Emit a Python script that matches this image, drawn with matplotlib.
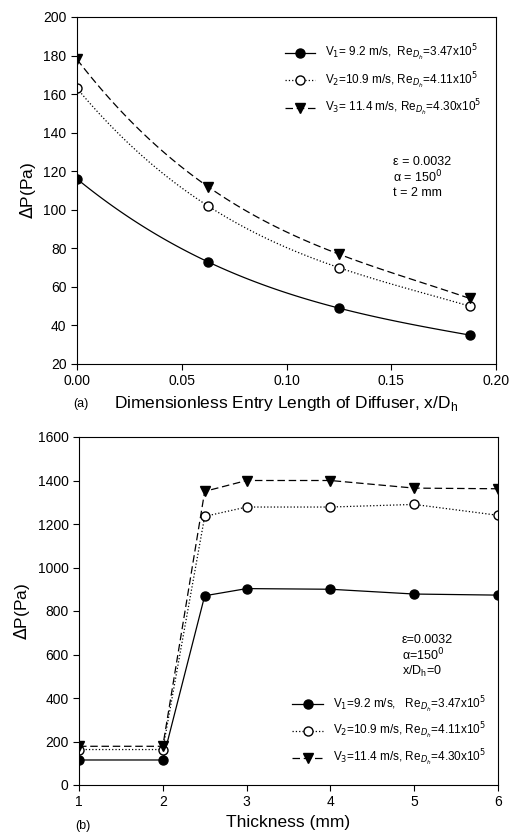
import matplotlib.pyplot as plt
import numpy as np

plt.rcParams["font.family"] = ["Liberation Sans", "DejaVu Sans"]

# panel (a): entry length
xd = [0.0, 0.0625, 0.125, 0.1875]
dp_a_v1 = [116, 73, 49, 35]
dp_a_v2 = [163, 102, 70, 50]
dp_a_v3 = [178, 112, 77, 54]

# panel (b): thickness
thick = [1, 2, 2.5, 3, 4, 5, 6]
dp_b_v1 = [115, 115, 870, 903, 900, 878, 873]
dp_b_v2 = [163, 163, 1235, 1278, 1278, 1290, 1240]
dp_b_v3 = [178, 178, 1350, 1400, 1400, 1365, 1362]

lab_a = [r"V$_1$= 9.2 m/s,  Re$_{D_h}$=3.47x10$^5$",
         r"V$_2$=10.9 m/s, Re$_{D_h}$=4.11x10$^5$",
         r"V$_3$= 11.4 m/s, Re$_{D_h}$=4.30x10$^5$"]
lab_b = [r"V$_1$=9.2 m/s,   Re$_{D_h}$=3.47x10$^5$",
         r"V$_2$=10.9 m/s, Re$_{D_h}$=4.11x10$^5$",
         r"V$_3$=11.4 m/s, Re$_{D_h}$=4.30x10$^5$"]

styles = [dict(ls="-", marker="o", mfc="black", mec="black"),
          dict(ls=":", marker="o", mfc="white", mec="black"),
          dict(ls=(0, (6, 3)), marker="v", mfc="black", mec="black")]

fig = plt.figure(figsize=(5.11, 8.34), dpi=100)
ax1 = fig.add_axes([77 / 511, 1 - 364 / 834, 419 / 511, 347 / 834])
ax2 = fig.add_axes([79 / 511, 1 - 785 / 834, 419 / 511, 348 / 834])

xs = np.linspace(xd[0], xd[-1], 100)
for ys, st, lb in zip([dp_a_v1, dp_a_v2, dp_a_v3], styles, lab_a):
    coef = np.polyfit(xd, ys, 3)
    ax1.plot(xs, np.polyval(coef, xs), color="black", ls=st["ls"], lw=0.9)
    ax1.plot(xd, ys, ls="none", marker=st["marker"], ms=6.5, mfc=st["mfc"], mec=st["mec"])
    ax1.plot([], [], color="black", ls=st["ls"], lw=0.9, marker=st["marker"], ms=6.5,
             mfc=st["mfc"], mec=st["mec"], label=lb)

ax1.set_xlim(0, 0.2)
ax1.set_ylim(20, 200)
ax1.set_xticks([0.0, 0.05, 0.10, 0.15, 0.20])
ax1.set_xticklabels(["0.00", "0.05", "0.10", "0.15", "0.20"])
ax1.set_yticks(range(20, 201, 20))
ax1.set_ylabel(r"$\Delta$P(Pa)", fontsize=12.5)
ax1.set_xlabel(r"Dimensionless Entry Length of Diffuser, x/D$_\mathregular{h}$", fontsize=12.5)
ax1.legend(loc="upper right", bbox_to_anchor=(0.99, 0.955), frameon=False, fontsize=8.5,
           handlelength=2.6, labelspacing=0.6)
ax1.text(0.755, 0.6, "ε = 0.0032\nα = 150$^0$\nt = 2 mm", transform=ax1.transAxes,
         fontsize=9, va="top", linespacing=1.1)
ax1.text(-0.01, -0.125, "(a)", transform=ax1.transAxes, fontsize=9)

for ys, st, lb in zip([dp_b_v1, dp_b_v2, dp_b_v3], styles, lab_b):
    ax2.plot(thick, ys, color="black", ls=st["ls"], lw=0.9, marker=st["marker"], ms=6.5,
             mfc=st["mfc"], mec=st["mec"], label=lb)

ax2.set_xlim(1, 6)
ax2.set_ylim(0, 1600)
ax2.set_xticks(range(1, 7))
ax2.set_yticks(range(0, 1601, 200))
ax2.set_ylabel(r"$\Delta$P(Pa)", fontsize=12.5)
ax2.set_xlabel("Thickness (mm)", fontsize=12.5)
ax2.legend(loc="lower right", bbox_to_anchor=(0.99, 0.025), frameon=False, fontsize=8.5,
           handlelength=2.6, labelspacing=0.55, borderpad=0.2)
ax2.text(0.77, 0.435, "ε=0.0032\nα=150$^0$\nx/D$_\\mathregular{h}$=0", transform=ax2.transAxes,
         fontsize=9, va="top", linespacing=1.05)
ax2.text(-0.01, -0.125, "(b)", transform=ax2.transAxes, fontsize=9)

for ax in (ax1, ax2):
    ax.tick_params(direction="out", labelsize=10, length=4)

fig.savefig("out.png", dpi=100)
